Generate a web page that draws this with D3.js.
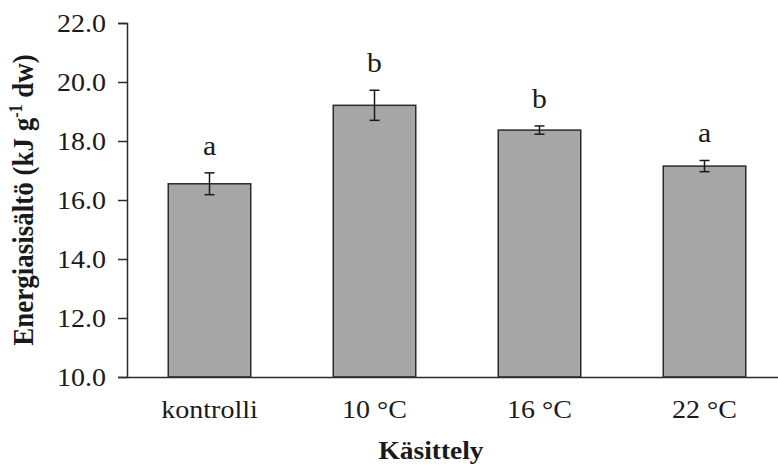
<!DOCTYPE html>
<html>
<head>
<meta charset="utf-8">
<script src="https://cdn.jsdelivr.net/npm/d3@7"></script>
<style>
  body { margin: 0; background: #fff; }
  svg { display: block; }
  text { font-family: "Liberation Serif", "Times New Roman", serif; fill: #1a1a1a; }
</style>
</head>
<body>
<svg id="chart" width="778" height="467"></svg>
<script>
// treatments on the x axis
const categories = ['kontrolli', '10 °C', '16 °C', '22 °C']
// mean energy content (kJ g-1 dw) and error bar half widths
const means = [16.55, 19.21, 18.37, 17.15]
const errors = [0.37, 0.51, 0.14, 0.19]
// significance letters above bars
const letters = ['a', 'b', 'b', 'a']
const yTicks = [10, 12, 14, 16, 18, 20, 22]

const svg = d3.select('#chart')
const stretch = 1.12 // the original text is a bit wider than plain Times

const x = d3.scaleBand()
  .domain(categories)
  .range([127, 787])
  .paddingInner(0.5)
  .paddingOuter(0.25)

const y = d3.scaleLinear()
  .domain([10, 22])
  .range([377, 23])

const data = categories.map((c, i) => ({
  cat: c, mean: means[i], err: errors[i], letter: letters[i]
}))

// bars
svg.selectAll('.bar')
  .data(data)
  .enter()
  .append('rect')
  .classed('bar', true)
  .attr('x', (d) => x(d.cat))
  .attr('y', (d) => y(d.mean))
  .attr('width', x.bandwidth())
  .attr('height', (d) => y(10) - y(d.mean))
  .style('fill', '#a6a6a6')
  .style('stroke', '#2b2b2b')
  .style('stroke-width', 1.5)

// error bars
let cap = 5
let eb = svg.selectAll('.err')
  .data(data)
  .enter()
  .append('g')
  .classed('err', true)
  .style('stroke', '#1a1a1a')
  .style('stroke-width', 1.5)

eb.append('line')
  .attr('x1', (d) => x(d.cat) + x.bandwidth() / 2)
  .attr('x2', (d) => x(d.cat) + x.bandwidth() / 2)
  .attr('y1', (d) => y(d.mean + d.err))
  .attr('y2', (d) => y(d.mean - d.err))
eb.append('line')
  .attr('x1', (d) => x(d.cat) + x.bandwidth() / 2 - cap)
  .attr('x2', (d) => x(d.cat) + x.bandwidth() / 2 + cap)
  .attr('y1', (d) => y(d.mean + d.err))
  .attr('y2', (d) => y(d.mean + d.err))
eb.append('line')
  .attr('x1', (d) => x(d.cat) + x.bandwidth() / 2 - cap)
  .attr('x2', (d) => x(d.cat) + x.bandwidth() / 2 + cap)
  .attr('y1', (d) => y(d.mean - d.err))
  .attr('y2', (d) => y(d.mean - d.err))

// letters
svg.selectAll('.letter')
  .data(data)
  .enter()
  .append('text')
  .classed('letter', true)
  .attr('transform', (d) => `translate(${x(d.cat) + x.bandwidth() / 2},${y(d.mean + d.err) - 18}) scale(${stretch},1)`)
  .attr('text-anchor', 'middle')
  .style('font-size', '26.5px')
  .text((d) => d.letter)

// y axis
let yAxis = svg.append('g')
  .attr('transform', 'translate(127,0)')
  .call(d3.axisLeft(y).tickValues(yTicks).tickSize(9).tickPadding(12).tickFormat(d3.format('.1f')))
yAxis.select('.domain').style('stroke', '#2b2b2b').style('stroke-width', 1.5)
yAxis.selectAll('.tick line').style('stroke', '#2b2b2b').style('stroke-width', 1.5)
yAxis.selectAll('.tick text')
  .attr('x', null).attr('dy', null)
  .attr('transform', `translate(-21,8.5) scale(${stretch},1)`)
  .style('font-size', '25px')
  .style('font-family', '"Liberation Serif", serif')
  .style('fill', '#1a1a1a')

// x axis line (runs off the right edge like the original)
let xAxis = svg.append('g')
  .attr('transform', 'translate(0,377)')
  .call(d3.axisBottom(x).tickSize(0).tickPadding(0))
xAxis.select('.domain').style('stroke', '#2b2b2b').style('stroke-width', 1.5)
xAxis.selectAll('.tick text')
  .attr('y', null).attr('dy', null)
  .attr('transform', `translate(0,41) scale(${stretch},1)`)
  .style('font-size', '25px')
  .style('font-family', '"Liberation Serif", serif')
  .style('fill', '#1a1a1a')

// axis titles
svg.append('text')
  .attr('transform', `translate(431,459) scale(${stretch},1)`)
  .attr('text-anchor', 'middle')
  .style('font-size', '24.5px')
  .style('font-weight', 'bold')
  .text('Käsittely')

let yTitle = svg.append('text')
  .attr('transform', `translate(33,200) rotate(-90) scale(1,${stretch})`)
  .attr('text-anchor', 'middle')
  .style('font-size', '27px')
  .style('font-weight', 'bold')
yTitle.append('tspan').text('Energiasisältö (kJ g')
yTitle.append('tspan').attr('dy', -10).style('font-size', '16px').text('-1')
yTitle.append('tspan').attr('dy', 10).text(' dw)')
</script>
</body>
</html>
